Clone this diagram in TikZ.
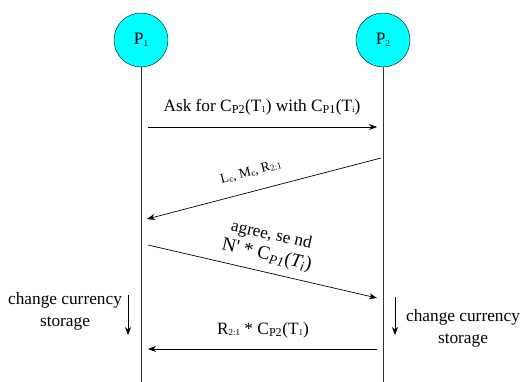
\documentclass[tikz,border=0pt]{standalone}
\usepackage{fontspec}
\setmainfont{Liberation Serif}
\newfontfamily\tnr{Liberation Serif}
\usetikzlibrary{arrows.meta}
\definecolor{proccyan}{RGB}{0,255,255}
\newcommand{\sbs}[1]{\raisebox{-0.1em}{\fontsize{9}{9}\selectfont #1}}
\begin{document}
\begin{tikzpicture}[x=1pt,y=-1pt,
  proc/.style={circle,draw=black,fill=proccyan,minimum size=54pt,inner sep=0pt,font=\tnr\fontsize{17.5}{19}\selectfont},
  life/.style={draw=black!80,line width=0.8pt},
  msg/.style={draw=black,line width=0.7pt,-{Stealth[length=8pt,width=6pt]}},
  lbl/.style={font=\tnr\fontsize{17.3}{22}\selectfont,inner sep=0pt,align=center}]
\useasboundingbox (0,0) rectangle (521,382);
\node[proc] (P1) at (141,40) {P\sbs{1}};
\node[proc] (P2) at (383,40) {P\sbs{2}};
\coordinate (e1) at (141,382);
\coordinate (e2) at (383,382);
\draw[life] (P1) -- (e1);
\draw[life] (P2) -- (e2);
% message 1
\coordinate (a1) at (148,127);
\coordinate (b1) at (377,127);
\draw[msg] (a1) -- (b1);
\node[lbl] (t1) at (262,107) {Ask for C\textsubscript{P2}(T\sbs{1}) with C\textsubscript{P1}(T\sbs{i})};
% message 2
\coordinate (a2) at (381,158);
\coordinate (b2) at (147,219);
\draw[msg] (a2) -- (b2);
\node[lbl,rotate=14.5,font=\tnr\fontsize{13.5}{15}\selectfont] (t2) at (251,172) {L\sbs{c}, M\sbs{c}, R\sbs{2:1}};
% message 3
\coordinate (a3) at (148,245);
\coordinate (b3) at (377,298);
\draw[msg] (a3) -- (b3);
\node[lbl,rotate=-13] (t3) at (269,246) {agree, se nd\\[-1pt]{\fontsize{19}{21}\selectfont N' * C\textsubscript{\itshape P1}(\textit{T\textsubscript{i}})}};
% message 4
\coordinate (a4) at (377,349);
\coordinate (b4) at (148,349);
\draw[msg] (a4) -- (b4);
\node[lbl] (t4) at (263,330) {R\sbs{2:1} * C\textsubscript{P2}(T\sbs{1})};
% local actions
\node[lbl] (c1) at (65,311) {change currency\\storage};
\coordinate (d1a) at (128,295);
\coordinate (d1b) at (128,335);
\draw[msg] (d1a) -- (d1b);
\node[lbl] (c2) at (463,328) {change currency\\storage};
\coordinate (d2a) at (395,297);
\coordinate (d2b) at (395,335);
\draw[msg] (d2a) -- (d2b);
\end{tikzpicture}
\end{document}
